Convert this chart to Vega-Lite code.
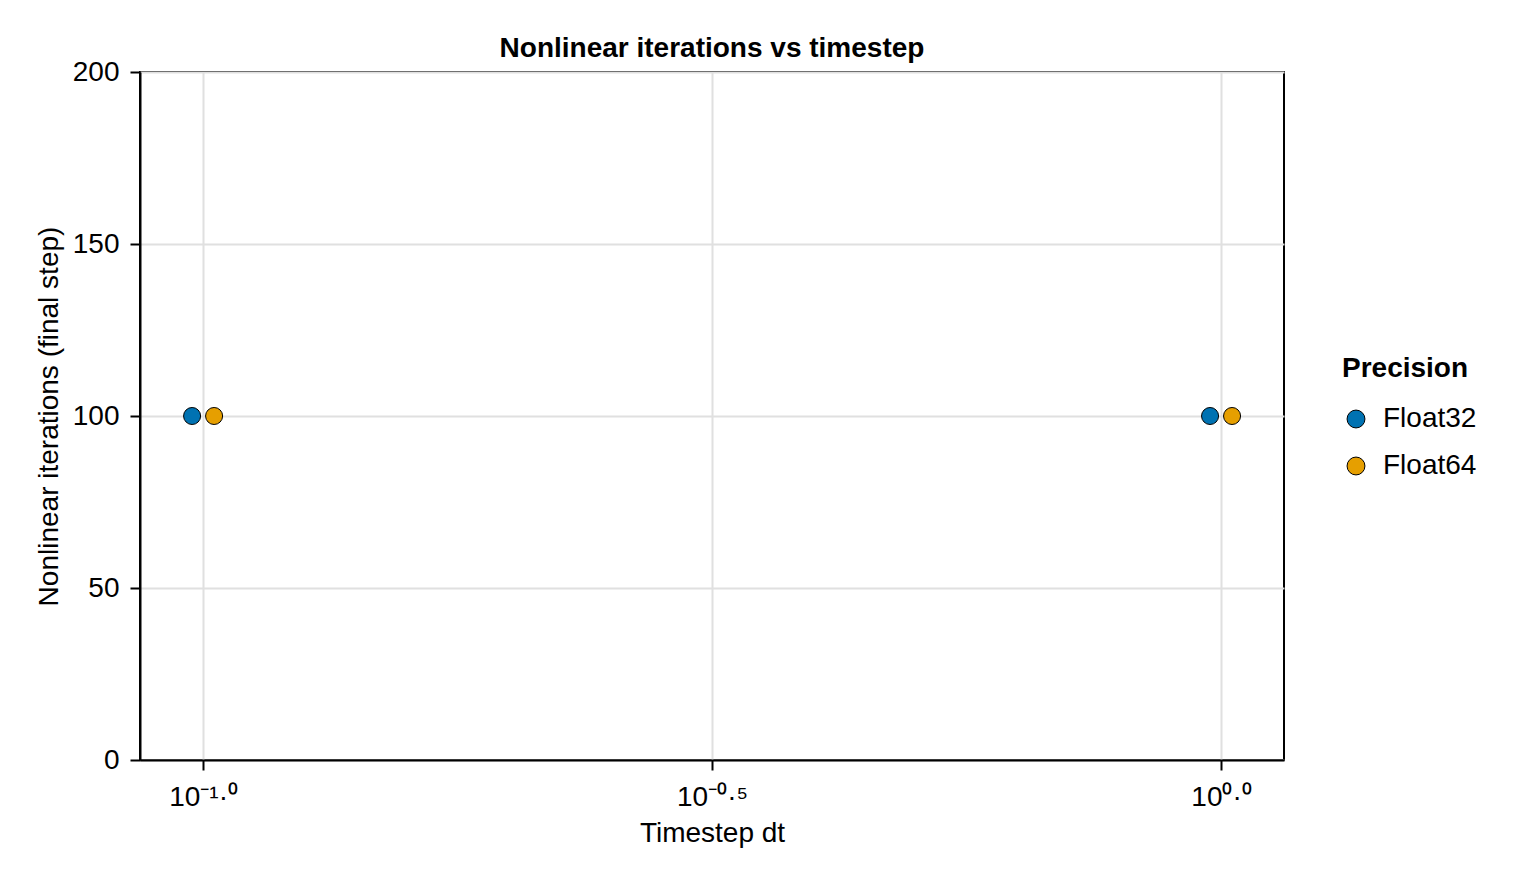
{
  "$schema": "https://vega.github.io/schema/vega-lite/v6.json",
  "width": 1144,
  "height": 688,
  "autosize": {"type": "none"},
  "padding": {"left": 140, "top": 72, "right": 236, "bottom": 120},
  "background": "white",
  "title": {
    "text": "Nonlinear iterations vs timestep",
    "font": "Liberation Sans",
    "fontSize": 28,
    "fontWeight": "bold",
    "color": "black",
    "anchor": "middle",
    "offset": -5
  },
  "data": {
    "values": [
      {"dt": 0.1, "iterations": 100, "precision": "Float32"},
      {"dt": 0.1, "iterations": 100, "precision": "Float64"},
      {"dt": 1.0, "iterations": 100, "precision": "Float32"},
      {"dt": 1.0, "iterations": 100, "precision": "Float64"}
    ]
  },
  "encoding": {
    "x": {
      "field": "dt",
      "type": "quantitative",
      "scale": {"type": "log", "domain": [0.0867, 1.153], "nice": false},
      "axis": {
        "title": "Timestep dt",
        "values": [0.1, 0.316228, 1],
        "labelExpr": "datum.value < 0.2 ? '10⁻¹·⁰' : (datum.value < 0.5 ? '10⁻⁰·⁵' : '10⁰·⁰')"
      }
    },
    "y": {
      "field": "iterations",
      "type": "quantitative",
      "scale": {"domain": [0, 200], "nice": false},
      "axis": {"title": "Nonlinear iterations (final step)", "values": [0, 50, 100, 150, 200]}
    },
    "color": {
      "field": "precision",
      "type": "nominal",
      "scale": {"domain": ["Float32", "Float64"], "range": ["#0072B2", "#E69F00"]},
      "legend": {
        "title": "Precision",
        "orient": "none",
        "legendX": 1202,
        "legendY": 283,
        "titleFont": "Liberation Sans",
        "titleFontSize": 28,
        "titleFontWeight": "bold",
        "titleColor": "black",
        "titlePadding": 22,
        "labelFont": "Liberation Sans",
        "labelFontSize": 28,
        "labelColor": "black",
        "labelOffset": 13,
        "rowPadding": 19,
        "symbolType": "circle",
        "symbolSize": 320,
        "symbolStrokeColor": "black",
        "symbolStrokeWidth": 1,
        "symbolOpacity": 1
      }
    }
  },
  "layer": [
    {
      "transform": [{"filter": "datum.precision == 'Float32'"}],
      "mark": {"type": "point", "filled": true, "opacity": 1, "stroke": "black", "strokeWidth": 1, "size": 290, "xOffset": -11}
    },
    {
      "transform": [{"filter": "datum.precision == 'Float64'"}],
      "mark": {"type": "point", "filled": true, "opacity": 1, "stroke": "black", "strokeWidth": 1, "size": 290, "xOffset": 11}
    }
  ],
  "config": {
    "view": {"stroke": "black", "strokeWidth": 2},
    "axis": {
      "labelFont": "Liberation Sans",
      "labelFontSize": 28,
      "labelColor": "black",
      "titleFont": "Liberation Sans",
      "titleFontSize": 28,
      "titleFontWeight": "normal",
      "titleColor": "black",
      "domainColor": "black",
      "domainWidth": 2,
      "tickColor": "black",
      "tickWidth": 2,
      "tickSize": 10,
      "gridColor": "#e0e0e0",
      "gridWidth": 2
    },
    "axisX": {"labelPadding": 13, "titlePadding": 8},
    "axisY": {"labelPadding": 11, "titlePadding": 9}
  }
}
